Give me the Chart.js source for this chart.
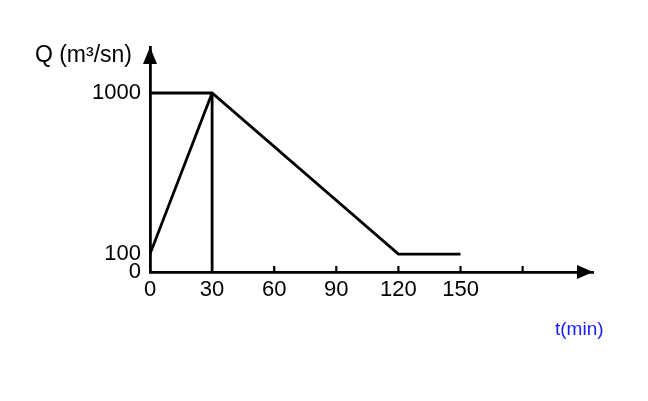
<!DOCTYPE html>
<html>
<head>
<meta charset="utf-8">
<script src="https://cdn.jsdelivr.net/npm/chart.js@4.4.0/dist/chart.umd.min.js"></script>
<style>
  html, body { margin: 0; padding: 0; background: #fff; }
</style>
</head>
<body>
<canvas id="hydro" width="648" height="401"></canvas>
<script>
// ----- data -----
const inflowT = [0, 30];
const inflowQ = [100, 1000];
const outflowT = [0, 30, 120, 150];
const outflowQ = [1000, 1000, 100, 100];
const peakT = [30, 30];
const peakQ = [0, 1000];

const xTicks = [0, 30, 60, 90, 120, 150, 180];
const xLabels = ['0', '30', '60', '90', '120', '150', ''];
const yTicks = [0, 100, 1000];
const yLabels = ['0', '100', '1000'];

const FONT = '"Liberation Sans", Arial, sans-serif';

function pts(xs, ys) {
  return xs.map((x, i) => ({ x: x, y: ys[i] }));
}

function lineSet(data) {
  return {
    data: data,
    borderColor: '#000',
    borderWidth: 2.8,
    pointRadius: 0,
    fill: false,
    tension: 0
  };
}

// arrows, inner tick marks and the free-standing labels
const sketchBits = {
  id: 'sketchBits',
  afterDraw(chart) {
    const ctx = chart.ctx;
    const a = chart.chartArea;
    const xs = chart.scales.x;
    ctx.save();
    ctx.strokeStyle = '#000';
    ctx.fillStyle = '#000';
    ctx.lineWidth = 2.2;
    xTicks.slice(2).forEach(v => {
      const px = xs.getPixelForValue(v);
      ctx.beginPath();
      ctx.moveTo(px, a.bottom);
      ctx.lineTo(px, a.bottom - 6);
      ctx.stroke();
    });

    // y arrow
    ctx.beginPath();
    ctx.moveTo(a.left, a.top);
    ctx.lineTo(a.left - 7, a.top + 17);
    ctx.lineTo(a.left + 7, a.top + 17);
    ctx.closePath();
    ctx.fill();
    // x arrow
    ctx.beginPath();
    ctx.moveTo(a.right, a.bottom);
    ctx.lineTo(a.right - 16, a.bottom - 7);
    ctx.lineTo(a.right - 16, a.bottom + 7);
    ctx.closePath();
    ctx.fill();

    ctx.font = '23px ' + FONT;
    ctx.textAlign = 'right';
    ctx.textBaseline = 'middle';
    ctx.fillText('Q (m³/sn)', a.left - 18, a.top + 9);

    ctx.font = '19px ' + FONT;
    ctx.fillStyle = '#1a1aff';
    ctx.textAlign = 'left';
    ctx.fillText('t(min)', 555, 330);
    ctx.restore();
  }
};

new Chart(document.getElementById('hydro'), {
  type: 'line',
  data: {
    datasets: [
      lineSet(pts(inflowT, inflowQ)),
      lineSet(pts(outflowT, outflowQ)),
      lineSet(pts(peakT, peakQ))
    ]
  },
  options: {
    responsive: false,
    animation: false,
    layout: { padding: { left: 86, right: 55, top: 47, bottom: 89 } },
    plugins: {
      legend: { display: false },
      tooltip: { enabled: false }
    },
    scales: {
      x: {
        type: 'linear',
        min: 0,
        max: 214,
        afterBuildTicks: s => { s.ticks = xTicks.map(v => ({ value: v })); },
        afterFit: s => { s.height = 40; },
        grid: { display: false, drawTicks: false },
        border: { display: true, color: '#000', width: 2.8 },
        ticks: {
          padding: 5,
          color: '#000',
          font: { family: FONT, size: 22 },
          maxRotation: 0,
          callback: (v, i) => xLabels[i]
        }
      },
      y: {
        type: 'linear',
        min: 0,
        max: 1257,
        afterBuildTicks: s => { s.ticks = yTicks.map(v => ({ value: v })); },
        afterFit: s => { s.width = 64; },
        grid: { display: false, drawTicks: false },
        border: { display: true, color: '#000', width: 2.8 },
        ticks: {
          padding: 9,
          color: '#000',
          font: { family: FONT, size: 22 },
          callback: (v, i) => yLabels[i]
        }
      }
    }
  },
  plugins: [sketchBits]
});
</script>
</body>
</html>
